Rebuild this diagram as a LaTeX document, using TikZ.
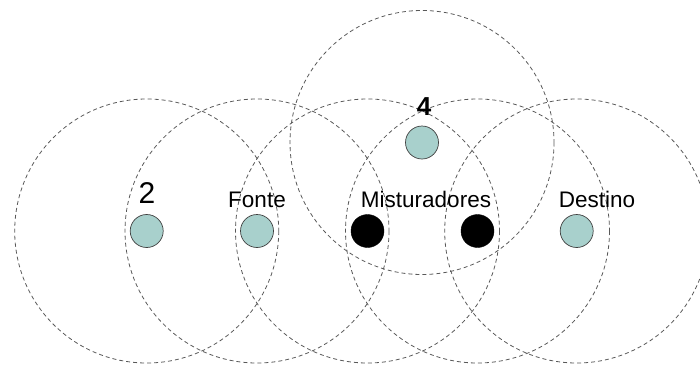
\documentclass[tikz,border=0pt]{standalone}
\usepackage{fontspec}
\setmainfont{Liberation Sans}
\begin{document}
\begin{tikzpicture}[x=1pt,y=-1pt,
  rangecircle/.style={draw=black!65,line width=0.8pt,dash pattern=on 4pt off 3pt},
  station/.style={circle,draw=black!75,line width=0.7pt,fill={rgb,255:red,168;green,208;blue,204},minimum size=33pt,inner sep=0pt},
  mixer/.style={circle,draw=black,fill=black,minimum size=33pt,inner sep=0pt},
  lbl/.style={inner sep=0pt,font=\fontsize{22.5}{26}\selectfont},
  biglbl/.style={inner sep=0pt,font=\fontsize{30}{34}\selectfont}]
\useasboundingbox (0,0) rectangle (700,367);
\coordinate (c2) at (146.7,231);
\coordinate (cf) at (257,231);
\coordinate (cm1) at (367.5,231);
\coordinate (cm2) at (477.5,231);
\coordinate (cd) at (576.7,231);
\coordinate (c4) at (422,142.5);
\foreach \c in {c2,cf,cm1,cm2,cd,c4} \draw[rangecircle] (\c) circle (132);
\node[station] (n2) at (c2) {};
\node[station] (nf) at (cf) {};
\node[mixer] (m1) at (cm1) {};
\node[mixer] (m2) at (cm2) {};
\node[station] (nd) at (cd) {};
\node[station] (n4) at (c4) {};
\node[biglbl,anchor=base] (t2) at (147,203) {2};
\node[lbl,anchor=base] (tf) at (257,207) {Fonte};
\node[lbl,anchor=base] (tm) at (426,207) {Misturadores};
\node[lbl,anchor=base] (td) at (597,207) {Destino};
\node[biglbl,anchor=base,font=\fontsize{26}{30}\bfseries] (t4) at (424,115) {4};
\end{tikzpicture}
\end{document}
